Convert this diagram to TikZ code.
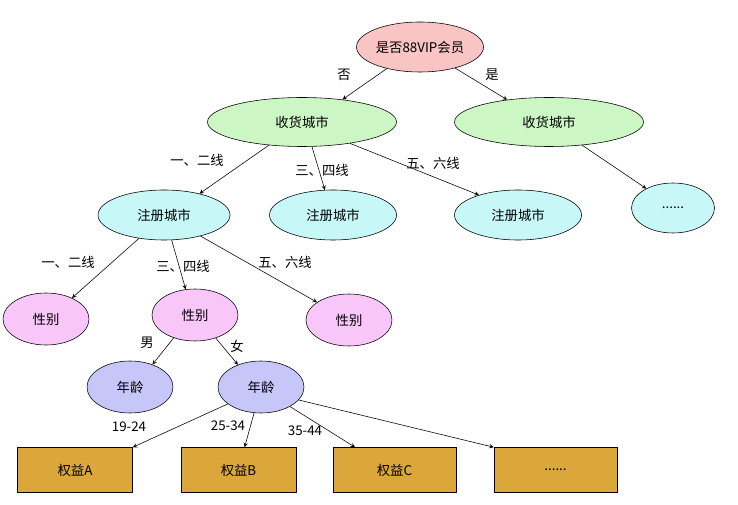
\documentclass[tikz,border=0pt]{standalone}
\usepackage{fontspec}
\newfontfamily\cjk{Noto Sans CJK SC}
\usetikzlibrary{shapes.geometric}
\definecolor{rose}{RGB}{248,196,196}
\definecolor{vert}{RGB}{204,246,196}
\definecolor{cyan}{RGB}{200,247,247}
\definecolor{mauve}{RGB}{248,198,248}
\definecolor{lavande}{RGB}{198,198,248}
\definecolor{ocre}{RGB}{219,166,58}

\begin{document}
\begin{tikzpicture}[
  every node/.style={font={\cjk\fontsize{9.5}{11}\selectfont}},
  oval/.style={draw, ellipse, inner sep=0pt},
  boite/.style={draw, rectangle, fill=ocre, minimum height=1.125cm},
  ]
 \useasboundingbox (0,0) rectangle (18.45,-12.625);

	% Racine
 \node[oval, fill=rose, minimum width=3.175cm, minimum height=1.25cm] (vip) at (10.5,-1.175) {是否88VIP会员};

	% Ville de livraison
 \node[oval, fill=vert, minimum width=4.725cm, minimum height=1.225cm] (livG) at (7.55,-3.05) {收货城市};
 \node[oval, fill=vert, minimum width=4.725cm, minimum height=1.225cm] (livD) at (13.725,-3.05) {收货城市};

	% Ville d'inscription
 \node[oval, fill=cyan, minimum width=3.3cm, minimum height=1.25cm] (insG) at (4.1,-5.375) {注册城市};
 \node[oval, fill=cyan, minimum width=3.175cm, minimum height=1.25cm] (insM) at (8.325,-5.375) {注册城市};
 \node[oval, fill=cyan, minimum width=3.175cm, minimum height=1.25cm] (insD) at (12.95,-5.375) {注册城市};
 \node[oval, fill=cyan, minimum width=2.075cm, minimum height=1.25cm] (suite) at (16.825,-5.2) {......};

	% Sexe
 \node[oval, fill=mauve, minimum width=2.15cm, minimum height=1.3cm] (sexG) at (1.15,-7.975) {性别};
 \node[oval, fill=mauve, minimum width=2.15cm, minimum height=1.3cm] (sexM) at (4.875,-7.875) {性别};
 \node[oval, fill=mauve, minimum width=2.15cm, minimum height=1.3cm] (sexD) at (8.725,-8.0) {性别};

	% Age
 \node[oval, fill=lavande, minimum width=2.15cm, minimum height=1.3cm] (ageG) at (3.25,-9.675) {年龄};
 \node[oval, fill=lavande, minimum width=2.15cm, minimum height=1.3cm] (ageD) at (6.525,-9.675) {年龄};

	% Droits
 \node[boite, minimum width=2.875cm] (A) at (1.875,-11.75) {权益A};
 \node[boite, minimum width=2.875cm] (B) at (5.9625,-11.75) {权益B};
 \node[boite, minimum width=3.075cm] (C) at (9.8625,-11.75) {权益C};
 \node[boite, minimum width=3.075cm] (D) at (13.8875,-11.75) {......};

	% Liaisons
 \draw[->,>=stealth] (vip.213) -- (livG.29);
 \draw[->,>=stealth] (vip.329) -- (livD.152);
 \draw[->,>=stealth] (livG.215) -- (insG.31);
 \draw[->,>=stealth] (livG.292) -- (insM.108);
 \draw[->,>=stealth] (livG.336) -- (insD.153);
 \draw[->,>=stealth] (livD.325) -- (suite.144);
 \draw[->,>=stealth] (insG.223) -- (sexG.39);
 \draw[->,>=stealth] (insG.287) -- (sexM.110);
 \draw[->,>=stealth] (insG.330) -- (sexD.151);
 \draw[->,>=stealth] (sexM.227) -- (ageG.45);
 \draw[->,>=stealth] (sexM.312) -- (ageD.136);
 \draw[->,>=stealth] (ageD.207) -- (A.north east);
 \draw[->,>=stealth] (ageD.255) -- (B.75);
 \draw[->,>=stealth] (ageD.326) -- (C.150);
 \draw[->,>=stealth] (ageD.341) -- (D.north west);

	% Etiquettes
 \node (non) at (8.6,-1.875) {否};
 \node (oui) at (12.3,-1.875) {是};
 \node (r12) at (4.925,-4.0) {一、二线};
 \node (r34) at (8.05,-4.25) {三、四线};
 \node (r56) at (10.825,-4.075) {五、六线};
 \node (s12) at (1.7,-6.55) {一、二线};
 \node (s34) at (4.575,-6.65) {三、四线};
 \node (s56) at (7.125,-6.55) {五、六线};
 \node (homme) at (3.675,-8.575) {男};
 \node (femme) at (5.925,-8.65) {女};
 \node (t1) at (3.225,-10.675) {19-24};
 \node (t2) at (5.7,-10.65) {25-34};
 \node (t3) at (7.625,-10.775) {35-44};

\end{tikzpicture}
\end{document}
